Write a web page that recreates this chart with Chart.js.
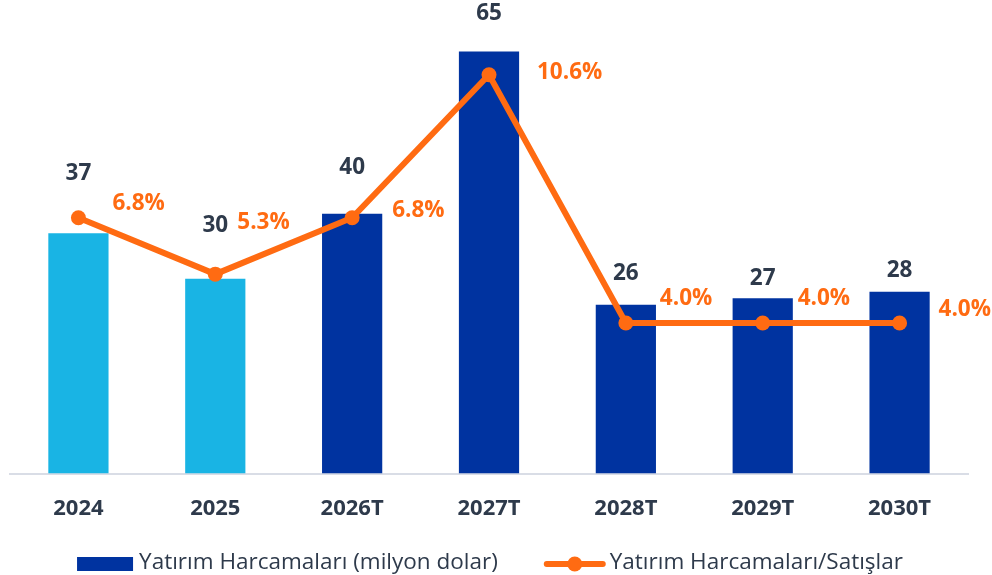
<!DOCTYPE html>
<html>
<head>
<meta charset="utf-8">
<script src="https://cdn.jsdelivr.net/npm/chart.js@4.4.1/dist/chart.umd.min.js"></script>
<style>
  html, body { margin: 0; padding: 0; background: #fff; }
  #wrap { width: 992px; height: 575px; }
</style>
</head>
<body>
<div id="wrap"><canvas id="capexChart" width="992" height="575"></canvas></div>
<script>
// chart data
const years = ["2024", "2025", "2026T", "2027T", "2028T", "2029T", "2030T"];
const capex = [37, 30, 40, 65, 26, 27, 28];
const capexToSales = [6.8, 5.3, 6.8, 10.6, 4.0, 4.0, 4.0];
const isForecast = [false, false, true, true, true, true, true];
const seriesNames = ["Yatırım Harcamaları (milyon dolar)", "Yatırım Harcamaları/Satışlar"];

// label placement (hand-placed in the original)
const barLabelLift = [60, 53, 46, 38, 31, 20, 21];
const pctLabelDx = [34, 22, 40, 48, 34, 35, 39];
const pctLabelDy = [-14, -52, -7, -2, -24, -24, -13];

const DARK_BLUE = "#0033a0";
const LIGHT_BLUE = "#19b4e4";
const ORANGE = "#ff6b12";
const TEXT = "#2e3a4b";
const FONT = "'Open Sans', sans-serif";

const valueLabels = {
    id: "valueLabels",
    afterDatasetsDraw(chart) {
        const ctx = chart.ctx;
        const bars = chart.getDatasetMeta(0).data;
        const points = chart.getDatasetMeta(1).data;
        ctx.save();
        ctx.font = "bold 22.5px " + FONT;
        ctx.textBaseline = "middle";

        ctx.fillStyle = TEXT;
        ctx.textAlign = "center";
        bars.forEach((bar, i) => {
            ctx.fillText(String(capex[i]), bar.x, bar.y - barLabelLift[i]);
        });

        ctx.fillStyle = ORANGE;
        ctx.textAlign = "left";
        points.forEach((pt, i) => {
            ctx.fillText(capexToSales[i].toFixed(1) + "%", pt.x + pctLabelDx[i], pt.y + pctLabelDy[i]);
        });
        ctx.restore();
    }
};

// legend drawn in the space kept free by layout.padding.bottom
const bottomLegend = {
    id: "bottomLegend",
    afterDraw(chart) {
        const ctx = chart.ctx;
        const y = chart.height - 12;
        ctx.save();
        ctx.font = "22.5px " + FONT;
        ctx.textBaseline = "middle";
        ctx.textAlign = "left";
        const w1 = ctx.measureText(seriesNames[0]).width;
        const w2 = ctx.measureText(seriesNames[1]).width;
        const total = 56 + 6 + w1 + 46 + 62 + 4 + w2;
        let x = (chart.width - total) / 2 - 6;

        ctx.fillStyle = DARK_BLUE;
        ctx.fillRect(x, y - 6, 56, 14);
        x += 62;
        ctx.fillStyle = TEXT;
        ctx.fillText(seriesNames[0], x, y);
        x += w1 + 46;

        ctx.strokeStyle = ORANGE;
        ctx.lineWidth = 6;
        ctx.lineCap = "round";
        ctx.beginPath();
        ctx.moveTo(x + 3, y + 1);
        ctx.lineTo(x + 59, y + 1);
        ctx.stroke();
        ctx.fillStyle = ORANGE;
        ctx.beginPath();
        ctx.arc(x + 31, y + 1, 7.5, 0, Math.PI * 2);
        ctx.fill();
        x += 66;
        ctx.fillStyle = TEXT;
        ctx.fillText(seriesNames[1], x, y);
        ctx.restore();
    }
};

const ctx = document.getElementById("capexChart").getContext("2d");

new Chart(ctx, {
    data: {
        labels: years,
        datasets: [
            {
                type: "bar",
                label: seriesNames[0],
                data: capex,
                backgroundColor: isForecast.map(f => f ? DARK_BLUE : LIGHT_BLUE),
                categoryPercentage: 1,
                barPercentage: 0.44,
                yAxisID: "y",
                order: 2
            },
            {
                type: "line",
                label: seriesNames[1],
                data: capexToSales,
                borderColor: ORANGE,
                backgroundColor: ORANGE,
                borderWidth: 6,
                pointRadius: 7.5,
                pointHoverRadius: 7.5,
                pointBackgroundColor: ORANGE,
                pointBorderWidth: 0,
                tension: 0,
                yAxisID: "y1",
                order: 1
            }
        ]
    },
    options: {
        responsive: false,
        animation: false,
        layout: {
            padding: { left: 10, right: 24, top: 19, bottom: 31 }
        },
        scales: {
            x: {
                offset: true,
                grid: { display: false, drawTicks: false },
                border: { display: true, color: "#d9dde6", width: 2 },
                ticks: {
                    color: TEXT,
                    padding: 22,
                    font: { family: FONT, size: 22, weight: "bold" }
                }
            },
            y: {
                display: false,
                min: 0,
                max: 70
            },
            y1: {
                display: false,
                min: 0,
                max: 12.08
            }
        },
        plugins: {
            tooltip: { enabled: false },
            legend: { display: false }
        }
    },
    plugins: [valueLabels, bottomLegend]
});
</script>
</body>
</html>
